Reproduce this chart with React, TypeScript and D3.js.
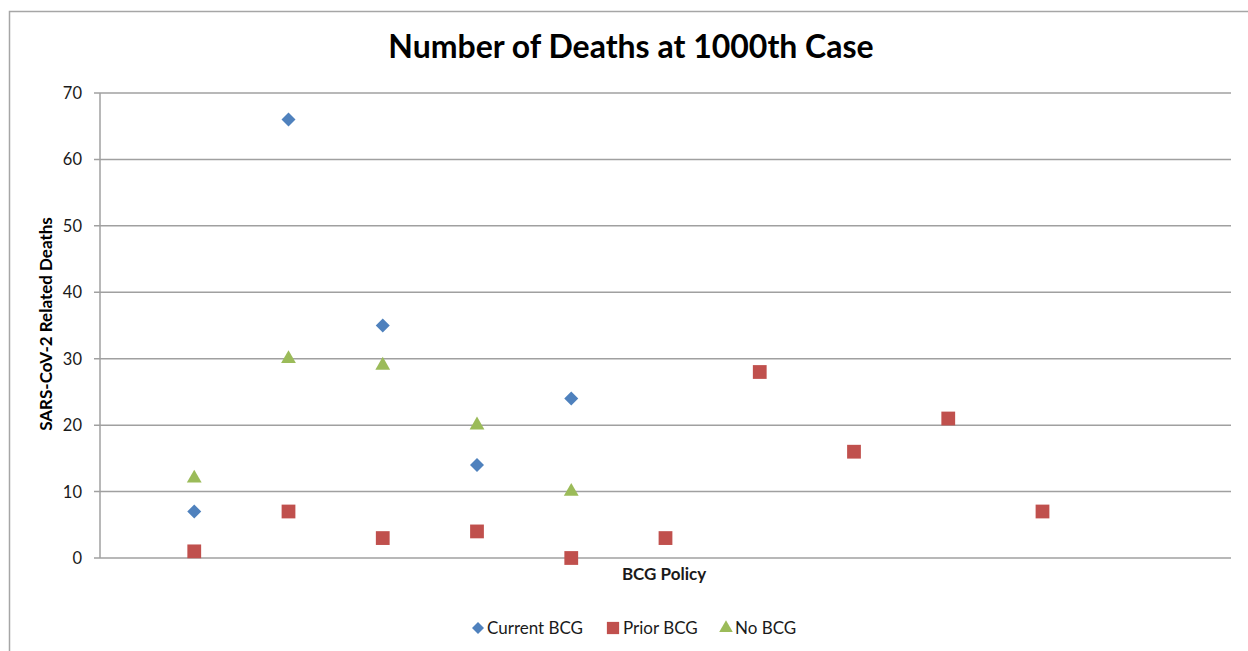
import React from "react";
import * as d3 from "d3";

const categories = [1, 2, 3, 4, 5, 6, 7, 8, 9, 10];
const currentBCG = [7, 66, 35, 14, 24];
const priorBCG = [1, 7, 3, 4, 0, 3, 28, 16, 21, 7];
const noBCG = [12, 30, 29, 20, 10];
const yTicks = [0, 10, 20, 30, 40, 50, 60, 70];
const seriesNames = ["Current BCG", "Prior BCG", "No BCG"];

const W = 1248;
const H = 651;
const plot = { left: 100, right: 1231, top: 93, bottom: 558 };
const COLORS = { blue: "#4F81BD", red: "#C0504D", green: "#9BBB59" };
const FONT = "Lato, 'Open Sans', sans-serif";

const x = d3.scaleLinear().domain([0, 12]).range([plot.left, plot.right]);
const y = d3.scaleLinear().domain([0, 70]).range([plot.bottom, plot.top]);

const diamond = d3.symbol(d3.symbolDiamond2, 125)();
const square = d3.symbol(d3.symbolSquare, 190)();
const triangle = d3.symbol(d3.symbolTriangle, 95)();

export default function App() {
  return (
    <svg
      width={W}
      height={H}
      style={{ position: "absolute", left: 0, top: 0, background: "#fff" }}
      fontFamily={FONT}
    >
      <rect x={9.5} y={11.5} width={1300} height={700} fill="#fff" stroke="#a6a6a6" strokeWidth={1.5} />
      <text x={631} y={58} textAnchor="middle" fontSize={32} fontWeight="bold" fill="#000">
        Number of Deaths at 1000th Case
      </text>
      {yTicks.map((t) => (
        <g key={t}>
          <line x1={plot.left - 6} x2={plot.right} y1={y(t)} y2={y(t)} stroke="#a0a0a0" strokeWidth={1.5} />
          <text x={82} y={y(t) + 6} textAnchor="end" fontSize={16.5} fill="#1a1a1a">
            {t}
          </text>
        </g>
      ))}
      <line x1={plot.left} x2={plot.left} y1={plot.top} y2={plot.bottom} stroke="#a0a0a0" strokeWidth={1.5} />
      <text
        transform={`translate(52, 324) rotate(-90)`}
        textAnchor="middle"
        fontSize={17}
        fontWeight="bold"
        fill="#000"
      >
        SARS-CoV-2 Related Deaths
      </text>
      <text x={664} y={580} textAnchor="middle" fontSize={17} fontWeight="bold" fill="#1a1a1a">
        BCG Policy
      </text>
      {currentBCG.map((v, i) => (
        <path key={"c" + i} d={diamond} transform={`translate(${x(categories[i])},${y(v)})`} fill={COLORS.blue} />
      ))}
      {priorBCG.map((v, i) => (
        <path key={"p" + i} d={square} transform={`translate(${x(categories[i])},${y(v)})`} fill={COLORS.red} />
      ))}
      {noBCG.map((v, i) => (
        <path key={"n" + i} d={triangle} transform={`translate(${x(categories[i])},${y(v)})`} fill={COLORS.green} />
      ))}
      <g fontSize={17} fill="#1a1a1a">
        <path d={d3.symbol(d3.symbolDiamond2, 92)()} transform="translate(478,628)" fill={COLORS.blue} />
        <text x={487} y={634}>{seriesNames[0]}</text>
        <path d={d3.symbol(d3.symbolSquare, 150)()} transform="translate(613,628)" fill={COLORS.red} />
        <text x={623} y={634}>{seriesNames[1]}</text>
        <path d={d3.symbol(d3.symbolTriangle, 80)()} transform="translate(726,628)" fill={COLORS.green} />
        <text x={735} y={634}>{seriesNames[2]}</text>
      </g>
    </svg>
  );
}
